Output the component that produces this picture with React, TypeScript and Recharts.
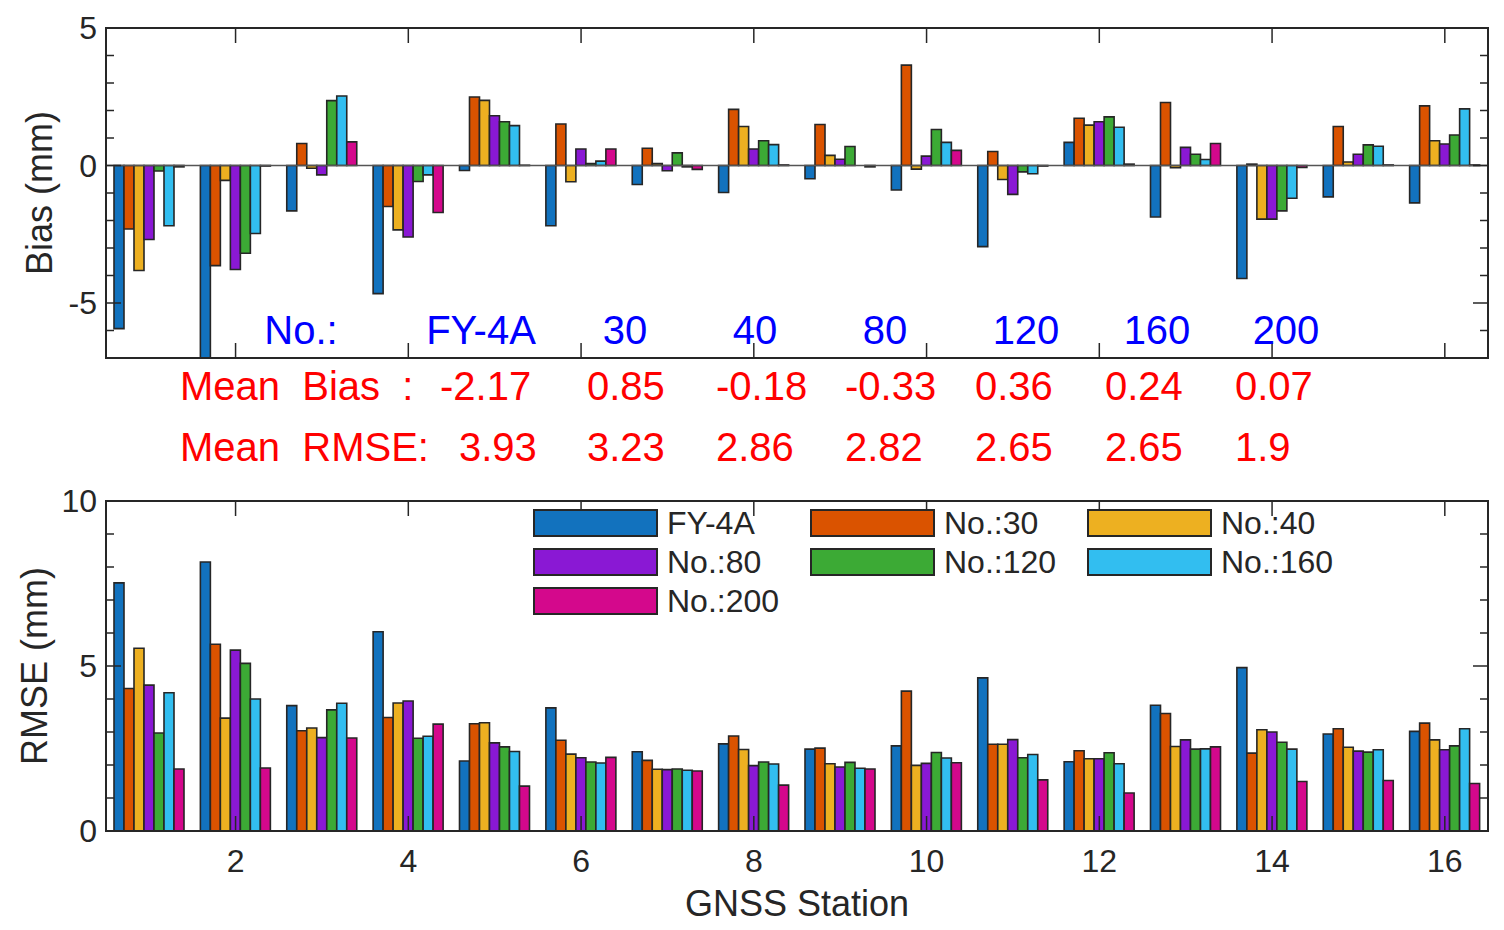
import React from 'react';
import { BarChart, Bar, XAxis, YAxis, ReferenceLine, Legend } from 'recharts';

// ---- data ----
const stations = [1, 2, 3, 4, 5, 6, 7, 8, 9, 10, 11, 12, 13, 14, 15, 16];
const stationTicks = [2, 4, 6, 8, 10, 12, 14, 16];

const seriesKeys = ['fy4a', 'n30', 'n40', 'n80', 'n120', 'n160', 'n200'];
const seriesNames = ['FY-4A', 'No.:30', 'No.:40', 'No.:80', 'No.:120', 'No.:160', 'No.:200'];
const seriesColors = ['#1272BE', '#DA5300', '#EDB021', '#8A18D4', '#3CAA35', '#32BEF0', '#D4088C'];

// Bias (mm) per station
const biasFy4a = [-5.93, -7.4, -1.65, -4.66, -0.18, -2.19, -0.69, -0.98, -0.48, -0.89, -2.95, 0.84, -1.87, -4.11, -1.14, -1.36];
const biasN30 = [-2.31, -3.64, 0.8, -1.49, 2.49, 1.51, 0.63, 2.04, 1.49, 3.65, 0.51, 1.72, 2.29, 0.05, 1.42, 2.17];
const biasN40 = [-3.82, -0.54, -0.1, -2.34, 2.37, -0.59, 0.07, 1.42, 0.37, -0.13, -0.51, 1.47, -0.08, -1.95, 0.13, 0.9];
const biasN80 = [-2.69, -3.78, -0.34, -2.6, 1.81, 0.6, -0.19, 0.6, 0.23, 0.34, -1.05, 1.59, 0.66, -1.95, 0.41, 0.78];
const biasN120 = [-0.2, -3.19, 2.36, -0.58, 1.59, 0.07, 0.46, 0.9, 0.69, 1.31, -0.23, 1.77, 0.41, -1.65, 0.75, 1.11];
const biasN160 = [-2.19, -2.47, 2.53, -0.34, 1.45, 0.16, -0.05, 0.76, 0.0, 0.84, -0.3, 1.39, 0.22, -1.19, 0.7, 2.06];
const biasN200 = [-0.05, -0.02, 0.86, -1.71, 0.01, 0.6, -0.14, 0.02, -0.05, 0.55, -0.02, 0.05, 0.8, -0.07, 0.02, 0.02];

// RMSE (mm) per station
const rmseFy4a = [7.52, 8.15, 3.8, 6.04, 2.12, 3.73, 2.4, 2.64, 2.48, 2.58, 4.64, 2.1, 3.81, 4.95, 2.94, 3.02];
const rmseN30 = [4.32, 5.66, 3.04, 3.44, 3.25, 2.75, 2.14, 2.88, 2.51, 4.24, 2.63, 2.43, 3.56, 2.36, 3.1, 3.27];
const rmseN40 = [5.54, 3.42, 3.12, 3.88, 3.28, 2.33, 1.87, 2.47, 2.04, 1.99, 2.63, 2.19, 2.56, 3.07, 2.54, 2.76];
const rmseN80 = [4.42, 5.48, 2.83, 3.94, 2.67, 2.22, 1.86, 1.98, 1.94, 2.05, 2.77, 2.19, 2.76, 3.0, 2.42, 2.46];
const rmseN120 = [2.97, 5.08, 3.67, 2.81, 2.55, 2.09, 1.88, 2.09, 2.08, 2.38, 2.22, 2.37, 2.48, 2.69, 2.39, 2.58];
const rmseN160 = [4.19, 4.0, 3.87, 2.87, 2.41, 2.06, 1.84, 2.03, 1.9, 2.21, 2.32, 2.04, 2.49, 2.48, 2.46, 3.1];
const rmseN200 = [1.88, 1.91, 2.82, 3.24, 1.36, 2.23, 1.82, 1.39, 1.88, 2.07, 1.55, 1.15, 2.55, 1.5, 1.53, 1.44];

const biasTicks = [-7, -6, -5, -4, -3, -2, -1, 0, 1, 2, 3, 4, 5];
const rmseTicks = [0, 1, 2, 3, 4, 5, 6, 7, 8, 9, 10];

// annotation text
const methodLabels = ['No.:', 'FY-4A', '30', '40', '80', '120', '160', '200'];
const meanBias = ['-2.17', '0.85', '-0.18', '-0.33', '0.36', '0.24', '0.07'];
const meanRmse = ['3.93', '3.23', '2.86', '2.82', '2.65', '2.65', '1.9'];

const biasSeries = [biasFy4a, biasN30, biasN40, biasN80, biasN120, biasN160, biasN200];
const rmseSeries = [rmseFy4a, rmseN30, rmseN40, rmseN80, rmseN120, rmseN160, rmseN200];

function buildRows(series: number[][]) {
  return stations.map((s, i) => {
    const row: Record<string, number> = { station: s };
    seriesKeys.forEach((k, j) => {
      row[k] = series[j][i];
    });
    return row;
  });
}

const biasData = buildRows(biasSeries);
const rmseData = buildRows(rmseSeries);

// ---- layout ----
const W = 1504;
const H = 930;
const PLOT_L = 106;
const PLOT_R = 1488;
const TOP_T = 28;
const TOP_B = 358;
const BOT_T = 501;
const BOT_B = 831;
const AXIS = '#262626';
const FONT = '"Liberation Sans", Arial, Helvetica, sans-serif';

function YTick(props: any) {
  const { y, payload } = props;
  const v = payload.value;
  const major = v % 5 === 0;
  const len = major ? 15 : 8;
  return (
    <g>
      <line x1={PLOT_L} x2={PLOT_L + len} y1={y} y2={y} stroke={AXIS} strokeWidth={1.5} />
      <line x1={PLOT_R - len} x2={PLOT_R} y1={y} y2={y} stroke={AXIS} strokeWidth={1.5} />
      {major && (
        <text x={97} y={y} textAnchor="end" dominantBaseline="central" fontSize={32} fill={AXIS} fontFamily={FONT}>
          {v}
        </text>
      )}
    </g>
  );
}

function makeXTick(top: number, bottom: number, showLabel: boolean) {
  return function XTick(props: any) {
    const { x, payload } = props;
    if (!stationTicks.includes(payload.value)) return <g />;
    return (
      <g>
        <line x1={x} x2={x} y1={top} y2={top + 15} stroke={AXIS} strokeWidth={1.5} />
        <line x1={x} x2={x} y1={bottom - 15} y2={bottom} stroke={AXIS} strokeWidth={1.5} />
        {showLabel && (
          <text x={x} y={bottom + 41} textAnchor="middle" fontSize={32} fill={AXIS} fontFamily={FONT}>
            {payload.value}
          </text>
        )}
      </g>
    );
  };
}

const TopXTick = makeXTick(TOP_T, TOP_B, false);
const BotXTick = makeXTick(BOT_T, BOT_B, true);

// legend in series order, filled row by row (3 per row)
function LegendGrid(props: any) {
  const items = [...(props.payload || [])].sort(
    (a: any, b: any) => seriesNames.indexOf(a.value) - seriesNames.indexOf(b.value)
  );
  return (
    <div style={{ display: 'grid', gridTemplateColumns: 'repeat(3, 277px)', gridAutoRows: '39px', fontFamily: FONT }}>
      {items.map((item: any) => (
        <div key={item.value} style={{ display: 'flex', alignItems: 'center' }}>
          <span
            style={{
              display: 'inline-block',
              width: 121,
              height: 24,
              background: item.color,
              border: `2px solid ${AXIS}`,
              marginRight: 9,
            }}
          />
          <span style={{ fontSize: 32, lineHeight: '32px', color: AXIS }}>{item.value}</span>
        </div>
      ))}
    </div>
  );
}

function renderBars() {
  return seriesKeys.map((k, j) => (
    <Bar
      key={k}
      dataKey={k}
      name={seriesNames[j]}
      fill={seriesColors[j]}
      stroke={AXIS}
      strokeWidth={1.6}
      isAnimationActive={false}
    />
  ));
}

const numX = [440, 587, 716, 845, 975, 1105, 1235];
const rmseX = [459, 587, 716, 845, 975, 1105, 1235];
const methodX = [301, 481, 625, 755, 885, 1026, 1157, 1286];

export default function App() {
  return (
    <div style={{ position: 'absolute', left: 0, top: 0, width: W, height: H, background: '#fff', fontFamily: FONT }}>
      <div style={{ position: 'absolute', left: 0, top: 0 }}>
        <BarChart
          width={W}
          height={H}
          data={biasData}
          margin={{ top: TOP_T, right: W - PLOT_R, bottom: H - TOP_B - 1, left: 0 }}
          barSize={10}
          barGap={0}
        >
          <XAxis dataKey="station" type="category" height={1} axisLine={false} tickLine={false} interval={0} tick={<TopXTick />} />
          <YAxis
            width={PLOT_L}
            domain={[-7, 5]}
            ticks={biasTicks}
            allowDataOverflow
            axisLine={false}
            tickLine={false}
            interval={0}
            tick={<YTick />}
          />
          <ReferenceLine y={0} stroke="#555" strokeWidth={1.5} />
          {renderBars()}
        </BarChart>
      </div>
      <div style={{ position: 'absolute', left: 0, top: 0 }}>
        <BarChart
          width={W}
          height={H}
          data={rmseData}
          margin={{ top: BOT_T, right: W - PLOT_R, bottom: H - BOT_B - 1, left: 0 }}
          barSize={10}
          barGap={0}
        >
          <XAxis dataKey="station" type="category" height={1} axisLine={false} tickLine={false} interval={0} tick={<BotXTick />} />
          <YAxis
            width={PLOT_L}
            domain={[0, 10]}
            ticks={rmseTicks}
            allowDataOverflow
            axisLine={false}
            tickLine={false}
            interval={0}
            tick={<YTick />}
          />
          <Legend
            layout="horizontal"
            verticalAlign="middle"
            align="center"
            content={<LegendGrid />}
            wrapperStyle={{ left: 533, top: 503, width: 840, height: 120 }}
          />
          {renderBars()}
        </BarChart>
      </div>
      <svg width={W} height={H} style={{ position: 'absolute', left: 0, top: 0, pointerEvents: 'none' }} fontFamily={FONT}>
        <rect x={PLOT_L} y={TOP_T} width={PLOT_R - PLOT_L} height={TOP_B - TOP_T} fill="none" stroke={AXIS} strokeWidth={2} />
        <rect x={PLOT_L} y={BOT_T} width={PLOT_R - PLOT_L} height={BOT_B - BOT_T} fill="none" stroke={AXIS} strokeWidth={2} />
        <text transform={`translate(52, ${(TOP_T + TOP_B) / 2}) rotate(-90)`} textAnchor="middle" fontSize={36} fill={AXIS}>
          Bias (mm)
        </text>
        <text transform={`translate(47, ${(BOT_T + BOT_B) / 2}) rotate(-90)`} textAnchor="middle" fontSize={36} fill={AXIS}>
          RMSE (mm)
        </text>
        <text x={(PLOT_L + PLOT_R) / 2} y={916} textAnchor="middle" fontSize={36} fill={AXIS}>
          GNSS Station
        </text>
        {methodLabels.map((t, i) => (
          <text key={t} x={methodX[i]} y={344} textAnchor="middle" fontSize={40} fill="#0000FF">
            {t}
          </text>
        ))}
        <text x={180} y={400} fontSize={40} fill="#FF0000" style={{ whiteSpace: 'pre' }}>
          {'Mean  Bias  :'}
        </text>
        <text x={180} y={461} fontSize={40} fill="#FF0000" style={{ whiteSpace: 'pre' }}>
          {'Mean  RMSE:'}
        </text>
        {meanBias.map((t, i) => (
          <text key={`b${i}`} x={numX[i]} y={400} fontSize={40} fill="#FF0000">
            {t}
          </text>
        ))}
        {meanRmse.map((t, i) => (
          <text key={`r${i}`} x={rmseX[i]} y={461} fontSize={40} fill="#FF0000">
            {t}
          </text>
        ))}
      </svg>
    </div>
  );
}
